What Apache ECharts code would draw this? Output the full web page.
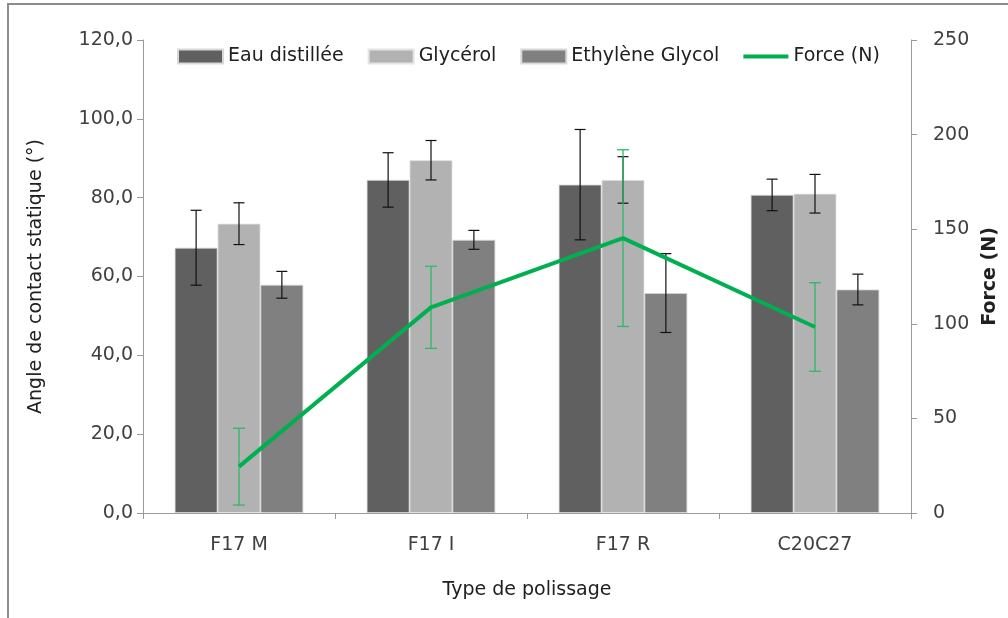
<!DOCTYPE html>
<html>
<head>
<meta charset="utf-8">
<script src="https://cdn.jsdelivr.net/npm/echarts@6/dist/echarts.min.js"></script>
<style>html,body{margin:0;padding:0;background:#fff;overflow:hidden}#c{width:1008px;height:618px}</style>
</head>
<body>
<div id="c"></div>
<script>
var categories = ['F17 M', 'F17 I', 'F17 R', 'C20C27'];
var eau = [67.3, 84.5, 83.3, 80.7];
var eauErr = [9.5, 6.9, 14.0, 4.0];
var glycerol = [73.4, 89.5, 84.5, 81.0];
var glycerolErr = [5.3, 5.0, 5.9, 4.9];
var ethylene = [57.9, 69.3, 55.8, 56.7];
var ethyleneErr = [3.4, 2.4, 10.0, 3.9];
var force = [24.5, 108.7, 145.3, 98.3];
var forceErr = [20.3, 21.7, 46.7, 23.4];

var FONT = 'DejaVu Sans';
var GAP = 0.33;

function errData(vals, errs) {
  return vals.map(function (v, i) { return [i, v, errs[i]]; });
}
function errSeries(name, vals, errs, slot, color, width, cap, yIdx) {
  return {
    type: 'custom', name: name, yAxisIndex: yIdx, z: 10,
    silent: true,
    encode: { x: 0, y: 1 },
    data: errData(vals, errs),
    renderItem: function (params, api) {
      var i = api.value(0), v = api.value(1), e = api.value(2);
      var band = api.size([1, 0])[0];
      var bw = band * (1 - GAP) / 3;
      var off = slot * bw;
      var top = api.coord([i, v + e]);
      var bot = api.coord([i, v - e]);
      var x = top[0] + off;
      var st = { stroke: color, lineWidth: width };
      return {
        type: 'group',
        children: [
          { type: 'line', shape: { x1: x, y1: top[1], x2: x, y2: bot[1] }, style: st },
          { type: 'line', shape: { x1: x - cap / 2, y1: top[1], x2: x + cap / 2, y2: top[1] }, style: st },
          { type: 'line', shape: { x1: x - cap / 2, y1: bot[1], x2: x + cap / 2, y2: bot[1] }, style: st }
        ]
      };
    }
  };
}

var chart = echarts.init(document.getElementById('c'));
var axisLbl = { color: '#404040', fontFamily: FONT, fontSize: 19 };
var option = {
  animation: false,
  textStyle: { fontFamily: FONT },
  graphic: [{
    type: 'polyline',
    shape: { points: [[8, 640], [8, 4], [1020, 4]] },
    style: { stroke: '#8c8c8c', lineWidth: 2, fill: null }
  }],
  grid: { left: 143, right: 92, top: 40, bottom: 105 },
  legend: {
    left: 172, top: 42,
    itemWidth: 45, itemHeight: 14, itemGap: 24,
    textStyle: { color: '#202020', fontFamily: FONT, fontSize: 19 },
    data: [
      { name: 'Eau distillée', icon: 'rect' },
      { name: 'Glycérol', icon: 'rect' },
      { name: 'Ethylène Glycol', icon: 'rect' },
      { name: 'Force (N)', icon: 'path://M0,0 L45,0 L45,4 L0,4 Z' }
    ]
  },
  xAxis: {
    type: 'category', data: categories,
    name: 'Type de polissage', nameLocation: 'middle', nameGap: 68,
    nameTextStyle: { color: '#202020', fontFamily: FONT, fontSize: 19 },
    axisLine: { lineStyle: { color: '#9a9a9a', width: 1 } },
    axisTick: { show: true, length: 6, lineStyle: { color: '#9a9a9a' } },
    axisLabel: Object.assign({ margin: 23 }, axisLbl)
  },
  yAxis: [{
    type: 'value', min: 0, max: 120, interval: 20,
    name: 'Angle de contact statique (°)', nameLocation: 'middle', nameGap: 97, nameRotate: 90,
    nameTextStyle: { color: '#202020', fontFamily: FONT, fontSize: 19 },
    axisLine: { show: true, lineStyle: { color: '#9a9a9a' } },
    axisTick: { show: true, length: 6, lineStyle: { color: '#9a9a9a' } },
    splitLine: { show: false },
    axisLabel: Object.assign({ margin: 10, formatter: function (v) { return v.toFixed(1).replace('.', ','); } }, axisLbl)
  }, {
    type: 'value', min: 0, max: 250, interval: 50, position: 'right',
    name: 'Force (N)', nameLocation: 'middle', nameGap: 70, nameRotate: 90,
    nameTextStyle: { color: '#202020', fontFamily: FONT, fontSize: 19, fontWeight: 'bold' },
    axisLine: { show: true, lineStyle: { color: '#9a9a9a' } },
    axisTick: { show: true, length: 6, lineStyle: { color: '#9a9a9a' } },
    splitLine: { show: false },
    axisLabel: Object.assign({ margin: 22 }, axisLbl)
  }],
  series: [
    { type: 'bar', name: 'Eau distillée', data: eau, barGap: '0%', barCategoryGap: '33%',
      itemStyle: { color: '#606060', borderColor: '#d8d8d8', borderWidth: 0.8 } },
    { type: 'bar', name: 'Glycérol', data: glycerol,
      itemStyle: { color: '#b2b2b2', borderColor: '#e4e4e4', borderWidth: 0.8 } },
    { type: 'bar', name: 'Ethylène Glycol', data: ethylene,
      itemStyle: { color: '#808080', borderColor: '#d8d8d8', borderWidth: 0.8 } },
    errSeries('errEau', eau, eauErr, -1, '#111', 1.2, 11, 0),
    errSeries('errGly', glycerol, glycerolErr, 0, '#111', 1.2, 11, 0),
    errSeries('errEth', ethylene, ethyleneErr, 1, '#111', 1.2, 11, 0),
    { type: 'line', name: 'Force (N)', yAxisIndex: 1, data: force, symbol: 'none', z: 12,
      lineStyle: { color: '#00b050', width: 4 }, itemStyle: { color: '#00b050' } },
    errSeries('errForce', force, forceErr, 0, '#2fb866', 1.3, 12, 1)
  ]
};
chart.setOption(option);
</script>
</body>
</html>
